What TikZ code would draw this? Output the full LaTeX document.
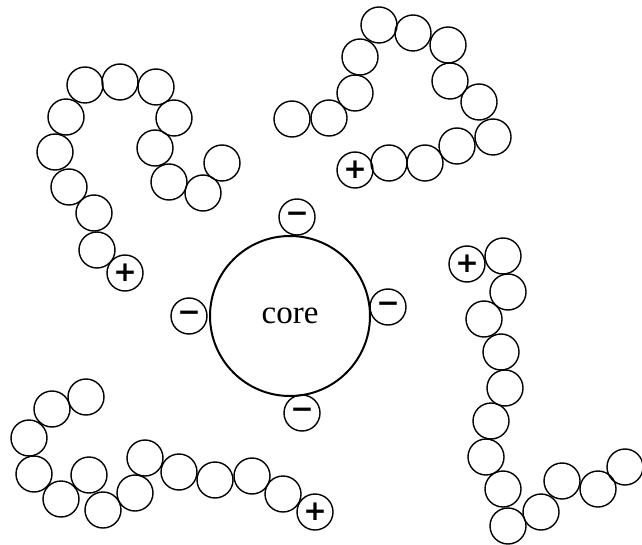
\documentclass[tikz,border=0pt]{standalone}
\usepackage{fontspec}
\setmainfont{Liberation Serif}
\newfontfamily\signfont{DejaVu Sans}

\begin{document}
\begin{tikzpicture}[
  x=1pt, y=-1pt,
  bead/.style={draw, circle, minimum size=36pt, inner sep=0pt, line width=1.4pt},
  charge/.style={bead, font=\signfont\bfseries\fontsize{28}{28}\selectfont},
  core/.style={draw, circle, minimum size=160pt, inner sep=0pt, line width=2pt, font=\fontsize{33}{33}\selectfont}
]
\useasboundingbox (0,0) rectangle (642,545);

% core with its surface charges
\node[core] (core) at (290,316) {core};
\node[charge] (mtop) at (297,217) {−};
\node[charge] (mleft) at (189,316) {−};
\node[charge] (mright) at (388,307) {−};
\node[charge] (mbottom) at (302,413) {−};

% chain, top left
\node[charge] (aplus) at (125,273) {+};
\foreach \x/\y [count=\i] in {97/250, 94/213, 69/187, 55/152, 66/117, 85/85, 120/82, 156/87, 174/118, 155/148, 169/182, 203/193, 222/163}
  \node[bead] (a\i) at (\x,\y) {};

% chain, top right
\node[charge] (bplus) at (355,170) {+};
\foreach \x/\y [count=\i] in {389/163, 425/163, 457/146, 493/137, 479/102, 450/81, 448/45, 413/33, 379/25, 360/57, 355/93, 329/118, 292/119}
  \node[bead] (b\i) at (\x,\y) {};

% chain, right
\node[charge] (cplus) at (467,264) {+};
\foreach \x/\y [count=\i] in {503/256, 508/292, 484/319, 501/352, 505/388, 491/421, 486/457, 503/489, 508/526, 541/512, 562/481, 598/489, 625/467}
  \node[bead] (c\i) at (\x,\y) {};

% chain, bottom left
\node[charge] (dplus) at (315,512) {+};
\foreach \x/\y [count=\i] in {283/494, 252/476, 215/480, 179/472, 145/458, 135/493, 103/510, 89/475, 61/499, 34/474, 29/438, 52/409, 86/397}
  \node[bead] (d\i) at (\x,\y) {};
\end{tikzpicture}
\end{document}
